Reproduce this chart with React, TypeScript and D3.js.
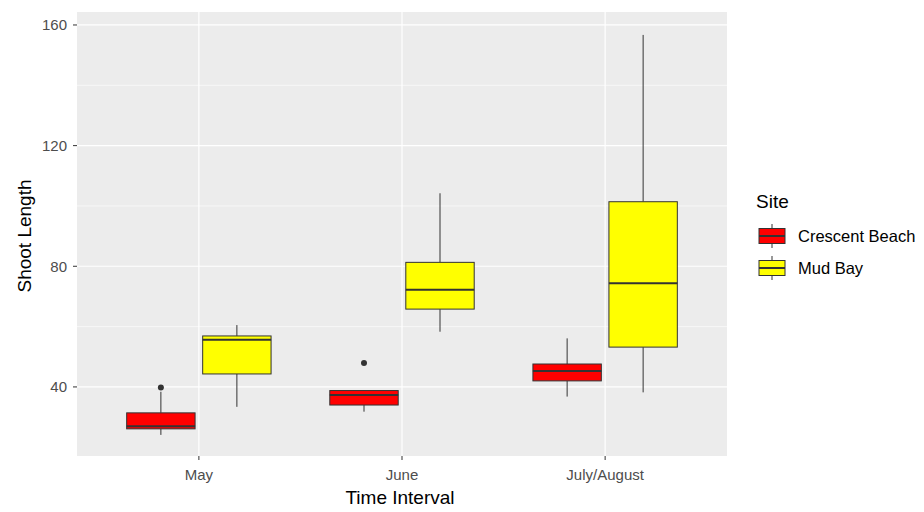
import React from "react";
import * as d3 from "d3";

// Time intervals along the x axis and the two sampling sites
const intervals = ["May", "June", "July/August"];
const sites = ["Crescent Beach", "Mud Bay"];
const siteColors = ["#FF0000", "#FFFF00"];

// Box statistics per site, one entry per interval
const crescentLower = [24.1, 31.8, 36.8];
const crescentQ1 = [26.1, 34.0, 42.0];
const crescentMedian = [27.0, 37.3, 45.3];
const crescentQ3 = [31.4, 38.8, 47.6];
const crescentUpper = [38.4, 38.8, 56.1];
const crescentOutliers = [[39.8], [47.9], []];

const mudLower = [33.4, 58.3, 38.2];
const mudQ1 = [44.3, 65.8, 53.2];
const mudMedian = [55.6, 72.2, 74.4];
const mudQ3 = [56.9, 81.3, 101.4];
const mudUpper = [60.5, 104.2, 156.7];
const mudOutliers = [[], [], []];

const yTicks = [40, 80, 120, 160];
const yMinor = [60, 100, 140];

type Box = {
  interval: string;
  site: string;
  color: string;
  lower: number;
  q1: number;
  median: number;
  q3: number;
  upper: number;
  outliers: number[];
};

const boxes: Box[] = [
  ...intervals.map((interval, i) => ({
    interval,
    site: sites[0],
    color: siteColors[0],
    lower: crescentLower[i],
    q1: crescentQ1[i],
    median: crescentMedian[i],
    q3: crescentQ3[i],
    upper: crescentUpper[i],
    outliers: crescentOutliers[i],
  })),
  ...intervals.map((interval, i) => ({
    interval,
    site: sites[1],
    color: siteColors[1],
    lower: mudLower[i],
    q1: mudQ1[i],
    median: mudMedian[i],
    q3: mudQ3[i],
    upper: mudUpper[i],
    outliers: mudOutliers[i],
  })),
];

const W = 924;
const H = 512;
const panel = { left: 77, right: 727, top: 12, bottom: 456 };
const font = "'Liberation Sans', Arial, sans-serif";
const ink = "#333333";
const tickSize = 15;
const titleSize = 19;
const legendSize = 16.5;

export default function App() {
  const x = d3
    .scalePoint<string>()
    .domain(intervals)
    .range([panel.left, panel.right])
    .padding(0.6);
  const dodge = d3.scaleBand<string>().domain(sites).range([-76, 76]);
  const boxW = dodge.bandwidth() * 0.9;
  const y = d3
    .scaleLinear()
    .domain([17.1, 164.3])
    .range([panel.bottom, panel.top]);

  return (
    <>
      <style>{`body{margin:0}`}</style>
      <svg width={W} height={H} style={{ display: "block", background: "#fff" }}>
        {/* panel */}
        <rect
          x={panel.left}
          y={panel.top}
          width={panel.right - panel.left}
          height={panel.bottom - panel.top}
          fill="#ECECEC"
        />
        {yMinor.map((v) => (
          <line
            key={"mn" + v}
            x1={panel.left}
            x2={panel.right}
            y1={y(v)}
            y2={y(v)}
            stroke="#fff"
            strokeWidth={0.6}
          />
        ))}
        {yTicks.map((v) => (
          <line
            key={"mj" + v}
            x1={panel.left}
            x2={panel.right}
            y1={y(v)}
            y2={y(v)}
            stroke="#fff"
            strokeWidth={1.2}
          />
        ))}
        {intervals.map((c) => (
          <line
            key={"vg" + c}
            x1={x(c)}
            x2={x(c)}
            y1={panel.top}
            y2={panel.bottom}
            stroke="#fff"
            strokeWidth={1.2}
          />
        ))}

        {/* boxes */}
        {boxes.map((b) => {
          const cx = (x(b.interval) as number) + (dodge(b.site) as number) + dodge.bandwidth() / 2;
          return (
            <g key={b.interval + b.site}>
              <line x1={cx} x2={cx} y1={y(b.upper)} y2={y(b.q3)} stroke={ink} strokeWidth={1} />
              <line x1={cx} x2={cx} y1={y(b.q1)} y2={y(b.lower)} stroke={ink} strokeWidth={1} />
              <rect
                x={cx - boxW / 2}
                y={y(b.q3)}
                width={boxW}
                height={y(b.q1) - y(b.q3)}
                fill={b.color}
                stroke={ink}
                strokeWidth={1}
              />
              <line
                x1={cx - boxW / 2}
                x2={cx + boxW / 2}
                y1={y(b.median)}
                y2={y(b.median)}
                stroke={ink}
                strokeWidth={2}
              />
              {b.outliers.map((o, k) => (
                <circle key={k} cx={cx} cy={y(o)} r={3} fill={ink} />
              ))}
            </g>
          );
        })}

        {/* y axis */}
        {yTicks.map((v) => (
          <g key={"yt" + v}>
            <line x1={panel.left - 4} x2={panel.left} y1={y(v)} y2={y(v)} stroke={ink} />
            <text
              x={67}
              y={y(v)}
              dy="0.35em"
              textAnchor="end"
              fontFamily={font}
              fontSize={tickSize}
              fill="#4D4D4D"
            >
              {v}
            </text>
          </g>
        ))}
        <text
          transform={`translate(31,${(panel.top + panel.bottom) / 2 + 2}) rotate(-90)`}
          textAnchor="middle"
          fontFamily={font}
          fontSize={titleSize}
          fill="#000"
        >
          Shoot Length
        </text>

        {/* x axis */}
        {intervals.map((c) => (
          <g key={"xt" + c}>
            <line x1={x(c)} x2={x(c)} y1={panel.bottom} y2={panel.bottom + 4} stroke={ink} />
            <text
              x={x(c)}
              y={480}
              textAnchor="middle"
              fontFamily={font}
              fontSize={tickSize}
              fill="#4D4D4D"
            >
              {c}
            </text>
          </g>
        ))}
        <text
          x={400}
          y={504}
          textAnchor="middle"
          fontFamily={font}
          fontSize={titleSize}
          fill="#000"
        >
          Time Interval
        </text>

        {/* legend */}
        <text x={756} y={208} fontFamily={font} fontSize={titleSize} fill="#000">
          Site
        </text>
        {sites.map((s, i) => {
          const cy = 236 + i * 32;
          const kx = 772;
          return (
            <g key={"lg" + s}>
              <line x1={kx} x2={kx} y1={cy - 12} y2={cy + 12} stroke={ink} />
              <rect x={kx - 13} y={cy - 7.5} width={26} height={15} fill={siteColors[i]} stroke={ink} />
              <line x1={kx - 13} x2={kx + 13} y1={cy} y2={cy} stroke={ink} strokeWidth={2} />
              <text x={798} y={cy} dy="0.35em" fontFamily={font} fontSize={legendSize} fill="#000">
                {s}
              </text>
            </g>
          );
        })}
      </svg>
    </>
  );
}
